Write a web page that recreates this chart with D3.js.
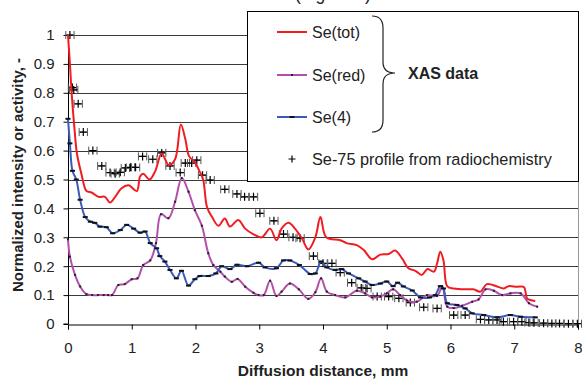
<!DOCTYPE html>
<html><head><meta charset="utf-8">
<script src="https://cdn.jsdelivr.net/npm/d3@7"></script>
<style>body{margin:0;background:#fff}svg{display:block;font-family:Arial,"Liberation Sans",sans-serif}</style>
</head><body>
<svg id="c" width="582" height="381"></svg>
<script>
// ---- data ----
const xTicks = [0,1,2,3,4,5,6,7,8];
const yTicks = [0,0.1,0.2,0.3,0.4,0.5,0.6,0.7,0.8,0.9,1];
const yTickLabels = ["0","0.1","0.2","0.3","0.4","0.5","0.6","0.7","0.8","0.9","1"];
const seriesNames = ["Se(tot)","Se(red)","Se(4)"];
const seTot = [[0,1.0],[0.03,0.9],[0.06,0.79],[0.1,0.68],[0.14,0.59],[0.21,0.52],[0.29,0.46],[0.37,0.455],[0.48,0.44],[0.58,0.44],[0.66,0.42],[0.74,0.44],[0.84,0.47],[0.95,0.48],[1.08,0.46],[1.13,0.51],[1.18,0.52],[1.28,0.50],[1.37,0.53],[1.47,0.59],[1.58,0.55],[1.68,0.57],[1.77,0.69],[1.84,0.64],[1.9,0.58],[1.99,0.56],[2.06,0.53],[2.12,0.5],[2.18,0.405],[2.26,0.37],[2.36,0.34],[2.46,0.365],[2.54,0.337],[2.67,0.36],[2.78,0.33],[2.91,0.31],[3.04,0.30],[3.17,0.33],[3.27,0.29],[3.35,0.33],[3.46,0.35],[3.56,0.33],[3.67,0.296],[3.77,0.258],[3.88,0.30],[3.96,0.37],[4.05,0.30],[4.27,0.29],[4.37,0.28],[4.53,0.273],[4.64,0.256],[4.77,0.224],[4.9,0.24],[5.03,0.242],[5.13,0.254],[5.24,0.227],[5.34,0.193],[5.45,0.184],[5.55,0.17],[5.64,0.19],[5.74,0.181],[5.79,0.21],[5.84,0.25],[5.89,0.22],[5.95,0.13],[6.05,0.123],[6.26,0.12],[6.36,0.12],[6.47,0.112],[6.57,0.138],[6.73,0.13],[6.83,0.123],[6.91,0.131],[7.04,0.129],[7.15,0.128],[7.2,0.089],[7.25,0.083],[7.33,0.08]];
const seRed = [[0,0.293],[0.03,0.233],[0.11,0.17],[0.19,0.13],[0.29,0.103],[0.38,0.10],[0.47,0.10],[0.56,0.10],[0.63,0.10],[0.69,0.10],[0.79,0.135],[0.89,0.138],[1.0,0.155],[1.09,0.158],[1.18,0.204],[1.29,0.22],[1.38,0.28],[1.46,0.38],[1.575,0.366],[1.68,0.423],[1.785,0.505],[1.89,0.458],[1.99,0.394],[2.1,0.34],[2.2,0.245],[2.28,0.204],[2.39,0.181],[2.46,0.164],[2.57,0.146],[2.66,0.156],[2.78,0.129],[2.91,0.108],[2.99,0.10],[3.07,0.10],[3.17,0.15],[3.27,0.097],[3.35,0.112],[3.48,0.14],[3.62,0.12],[3.77,0.087],[3.88,0.11],[3.97,0.158],[4.06,0.112],[4.19,0.10],[4.35,0.092],[4.53,0.115],[4.66,0.106],[4.77,0.092],[4.9,0.095],[5.0,0.106],[5.1,0.12],[5.21,0.10],[5.32,0.081],[5.47,0.077],[5.63,0.10],[5.79,0.097],[5.87,0.13],[5.95,0.06],[6.05,0.055],[6.18,0.063],[6.34,0.077],[6.44,0.085],[6.55,0.12],[6.68,0.115],[6.81,0.10],[6.94,0.106],[7.1,0.106],[7.23,0.072],[7.36,0.06]];
const se4 = [[0,0.71],[0.03,0.625],[0.07,0.53],[0.13,0.50],[0.19,0.43],[0.27,0.37],[0.35,0.354],[0.42,0.35],[0.5,0.337],[0.6,0.335],[0.7,0.314],[0.82,0.325],[0.92,0.343],[1.03,0.33],[1.13,0.316],[1.21,0.32],[1.29,0.28],[1.39,0.262],[1.44,0.235],[1.52,0.216],[1.6,0.187],[1.7,0.158],[1.78,0.184],[1.89,0.133],[1.99,0.155],[2.07,0.166],[2.2,0.166],[2.32,0.175],[2.41,0.20],[2.54,0.19],[2.65,0.205],[2.81,0.20],[2.99,0.212],[3.09,0.196],[3.27,0.193],[3.38,0.22],[3.48,0.22],[3.63,0.204],[3.8,0.173],[3.88,0.175],[3.97,0.216],[4.06,0.196],[4.19,0.187],[4.29,0.19],[4.4,0.175],[4.56,0.158],[4.66,0.147],[4.77,0.135],[4.9,0.14],[5.0,0.147],[5.1,0.131],[5.17,0.143],[5.26,0.13],[5.4,0.116],[5.53,0.092],[5.67,0.092],[5.76,0.10],[5.84,0.131],[5.89,0.123],[5.95,0.072],[6.1,0.066],[6.23,0.054],[6.34,0.037],[6.52,0.031],[6.73,0.023],[6.94,0.031],[7.1,0.025],[7.33,0.023]];
const se75 = [[0.03,1.0],[0.07,0.818],[0.09,0.81],[0.16,0.762],[0.24,0.664],[0.39,0.60],[0.53,0.547],[0.66,0.524],[0.74,0.52],[0.82,0.525],[0.9,0.54],[0.98,0.542],[1.06,0.542],[1.17,0.58],[1.33,0.57],[1.47,0.592],[1.6,0.547],[1.76,0.524],[1.84,0.557],[1.94,0.557],[2.02,0.567],[2.11,0.515],[2.23,0.498],[2.46,0.466],[2.65,0.45],[2.77,0.44],[2.91,0.44],[3.01,0.383],[3.23,0.357],[3.38,0.311],[3.53,0.30],[3.64,0.297],[3.85,0.235],[4.0,0.21],[4.14,0.21],[4.27,0.178],[4.45,0.143],[4.6,0.125],[4.69,0.123],[4.85,0.095],[5.03,0.095],[5.19,0.089],[5.37,0.074],[5.58,0.058],[5.79,0.054],[6.05,0.031],[6.23,0.031],[6.47,0.016],[6.6,0.014],[6.73,0.014],[6.83,0.008],[6.99,0.008],[7.12,0.008],[7.23,0.005],[7.31,0.004],[7.46,0.003],[7.59,0.002],[7.71,0.002],[7.85,0.001],[7.99,0.001]];
const se75Err = 0.065;

// ---- layout ----
const svg = d3.select("#c");
const L = 68, R = 578, T = 35, B = 324;
const x = d3.scaleLinear().domain([0,8]).range([L,R]);
const y = d3.scaleLinear().domain([0,1]).range([B,T]);
const colors = {tot:"#f01c22", red:"#b44fae", s4:"#3a5bbd"};

// partially visible caption at top (cut off in the original figure)
svg.append("text").attr("x",295).attr("y",-0.5)
  .attr("font-size",17.5).attr("fill","#222").text("(Figure 4)");

// gridlines
svg.append("g").selectAll("line").data(yTicks.filter(d=>d>0)).join("line")
  .attr("x1",L).attr("x2",R).attr("y1",d=>Math.round(y(d))+0.5).attr("y2",d=>Math.round(y(d))+0.5)
  .attr("stroke","#3a3a3a").attr("stroke-width",1);
// right border
svg.append("line").attr("x1",R+0.5).attr("x2",R+0.5).attr("y1",T).attr("y2",B).attr("stroke","#999");

// axes
const gx = svg.append("g").attr("transform",`translate(0,${B+0.5})`)
  .call(d3.axisBottom(x).tickValues(xTicks).tickSize(5).tickPadding(13).tickFormat(d3.format("d")));
const gy = svg.append("g").attr("transform",`translate(${L+0.5},0)`)
  .call(d3.axisLeft(y).tickValues(yTicks).tickSize(5).tickPadding(9).tickFormat((d,i)=>yTickLabels[i]));
[gx,gy].forEach(g=>{
  g.select(".domain").attr("stroke","#000");
  g.selectAll(".tick line").attr("stroke","#000");
  g.selectAll(".tick text").attr("font-size",15).attr("fill","#222").attr("font-family","Arial, 'Liberation Sans', sans-serif");
});
gy.select(".domain").attr("d",`M-5,${B}H0V${T}`);

// lines
const line = d3.line().x(d=>x(d[0])).y(d=>y(d[1])).curve(d3.curveCatmullRom.alpha(0.5));

// Se-75 error bars and markers
const g75 = svg.append("g");
se75.forEach(d=>{
  const cx = x(d[0]), cy = y(d[1]);
  const x1 = x(d[0]-se75Err), x2 = x(d[0]+se75Err);
  g75.append("path").attr("d",`M${x1},${cy}H${x2}M${x1},${cy-4}V${cy+4}M${x2},${cy-4}V${cy+4}`)
    .attr("stroke","#555").attr("stroke-width",1).attr("fill","none");
  g75.append("path").attr("d",`M${cx-3.5},${cy}H${cx+3.5}M${cx},${cy-4}V${cy+4}`)
    .attr("stroke","#000").attr("stroke-width",1.2).attr("fill","none");
});

svg.append("path").datum(seRed).attr("d",line).attr("fill","none").attr("stroke",colors.red).attr("stroke-width",2);
svg.append("path").datum(se4).attr("d",line).attr("fill","none").attr("stroke",colors.s4).attr("stroke-width",2);
svg.append("path").datum(seTot).attr("d",line).attr("fill","none").attr("stroke",colors.tot).attr("stroke-width",2);

// markers
svg.append("g").selectAll("rect").data(seRed).join("rect")
  .attr("x",d=>x(d[0])-1).attr("y",d=>y(d[1])-1).attr("width",2).attr("height",2).attr("fill","#222");
svg.append("g").selectAll("rect").data(se4).join("rect")
  .attr("x",d=>x(d[0])-2.5).attr("y",d=>y(d[1])-1).attr("width",5).attr("height",2).attr("fill","#111");

// legend
const lg = svg.append("g");
lg.append("rect").attr("x",247.5).attr("y",11.5).attr("width",331).attr("height",170)
  .attr("fill","#fff").attr("stroke","#000").attr("stroke-width",1);
const legY = [32,75,117];
const legC = [colors.tot, colors.red, colors.s4];
seriesNames.forEach((n,i)=>{
  lg.append("line").attr("x1",277).attr("x2",307).attr("y1",legY[i]).attr("y2",legY[i])
    .attr("stroke",legC[i]).attr("stroke-width",2);
  if(i===1) lg.append("rect").attr("x",291).attr("y",legY[i]-1).attr("width",2).attr("height",2).attr("fill","#222");
  if(i===2) lg.append("rect").attr("x",289.5).attr("y",legY[i]-1).attr("width",5).attr("height",2).attr("fill","#111");
  lg.append("text").attr("x",312).attr("y",legY[i]+6).attr("font-size",16).attr("fill","#222").text(n);
});
lg.append("path").attr("d","M292,155.5V162.5M288.5,159H295.5").attr("stroke","#000").attr("stroke-width",1.2);
lg.append("text").attr("x",312).attr("y",165).attr("font-size",16.3).attr("fill","#222").text("Se-75 profile from radiochemistry");
lg.append("path").attr("d","M372,16 Q383,16 383,28 L383,62 Q383,73 395,73 Q383,73 383,84 L383,120 Q383,132 372,132")
  .attr("fill","none").attr("stroke","#222").attr("stroke-width",1.2);
lg.append("text").attr("x",408).attr("y",79).attr("font-size",16).attr("font-weight","bold").attr("fill","#222").text("XAS data");

// axis titles
svg.append("text").attr("x",323).attr("y",376).attr("text-anchor","middle").attr("font-size",15.5)
  .attr("font-weight","bold").attr("fill","#222").text("Diffusion distance, mm");
svg.append("text").attr("transform","translate(23,175) rotate(-90)").attr("text-anchor","middle").attr("font-size",15)
  .attr("font-weight","bold").attr("fill","#222").text("Normalized intensity or activity, -");
</script>
</body></html>
